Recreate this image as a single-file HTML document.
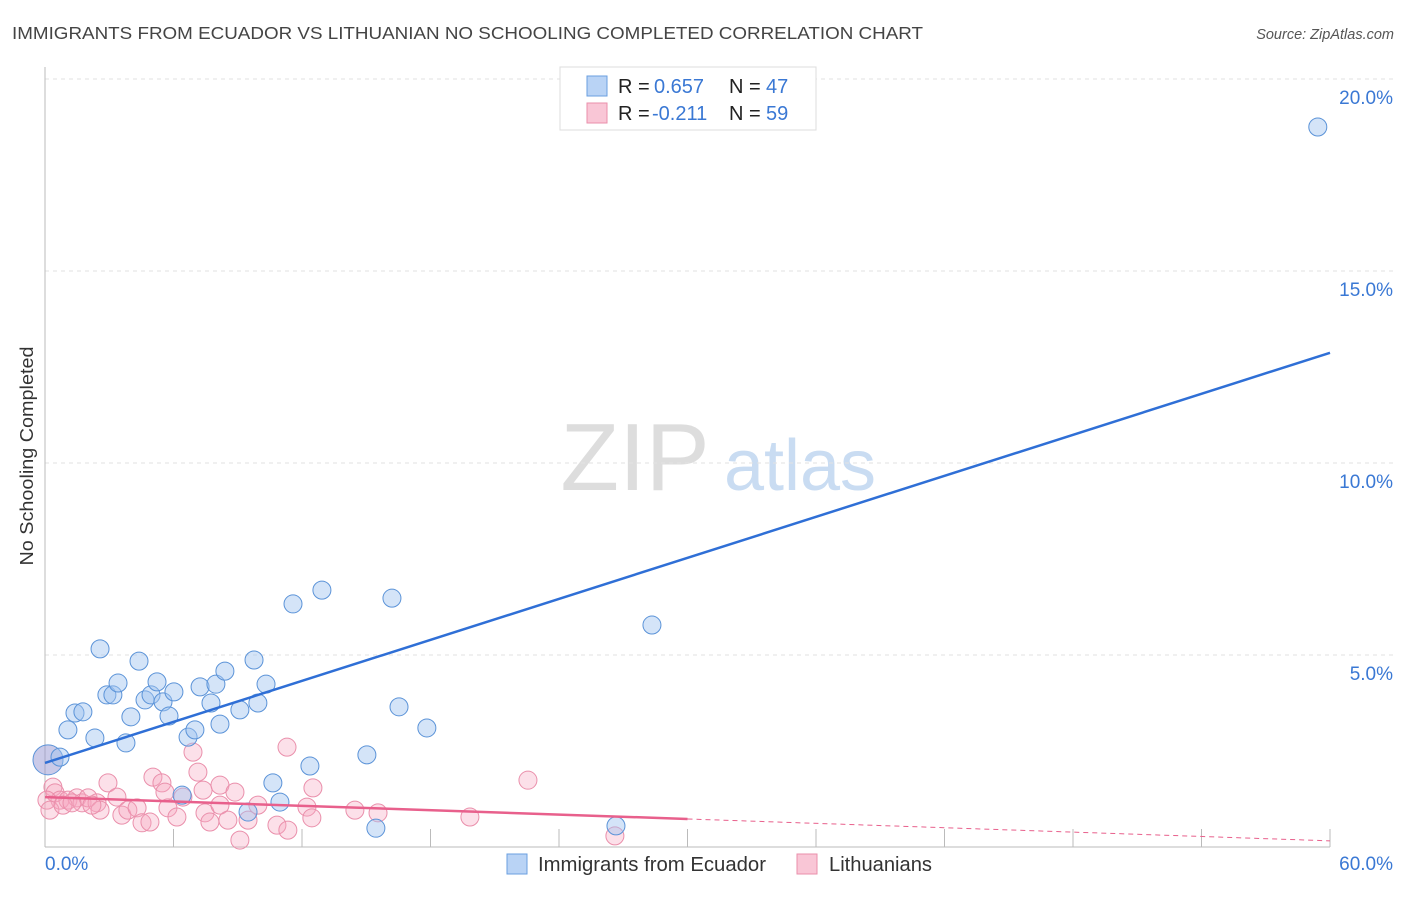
<!DOCTYPE html>
<html><head><meta charset="utf-8">
<style>
body{margin:0;background:#fff;font-family:"Liberation Sans",sans-serif;}
svg text{font-family:"Liberation Sans",sans-serif;}
</style></head>
<body>
<svg id="chart" width="1406" height="892" viewBox="0 0 1406 892" xmlns="http://www.w3.org/2000/svg">
<text x="12" y="39" font-size="17.5" fill="#444" textLength="911" lengthAdjust="spacingAndGlyphs">IMMIGRANTS FROM ECUADOR VS LITHUANIAN NO SCHOOLING COMPLETED CORRELATION CHART</text>
<text x="1394" y="39" font-size="14.5" fill="#555" font-style="italic" text-anchor="end">Source: ZipAtlas.com</text>
<text transform="translate(33,456) rotate(-90)" font-size="18" fill="#333" text-anchor="middle" textLength="219" lengthAdjust="spacingAndGlyphs">No Schooling Completed</text>
<g>
<text x="635" y="490" font-size="96" fill="#ddd" font-family="Liberation Serif,serif" text-anchor="middle">ZIP</text>
<text x="800" y="490" font-size="72" fill="#c9dcf2" text-anchor="middle">atlas</text>
</g>
<g id="grid"></g>
<g id="axes"></g>
<g id="marks"></g>
<g id="trends"></g>
<g>
<rect x="560" y="67" width="256" height="63" fill="#fff" stroke="#ddd"/>
<rect x="587" y="76" width="20" height="20" fill="#b9d3f5" stroke="#6a9fe0"/>
<rect x="587" y="103" width="20" height="20" fill="#f9c6d6" stroke="#ea8fab"/>
<text x="618" y="93" font-size="20" fill="#222">R = </text><text x="654" y="93" font-size="20" fill="#3a78d4">0.657</text>
<text x="729" y="93" font-size="20" fill="#222">N = </text><text x="766" y="93" font-size="20" fill="#3a78d4">47</text>
<text x="618" y="120" font-size="20" fill="#222">R = </text><text x="652" y="120" font-size="20" fill="#3a78d4">-0.211</text>
<text x="729" y="120" font-size="20" fill="#222">N = </text><text x="766" y="120" font-size="20" fill="#3a78d4">59</text>
</g>
<g>
<rect x="507" y="854" width="20" height="20" fill="#b9d3f5" stroke="#6a9fe0"/>
<text x="538" y="871" font-size="20" fill="#333" textLength="228" lengthAdjust="spacingAndGlyphs">Immigrants from Ecuador</text>
<rect x="797" y="854" width="20" height="20" fill="#f9c6d6" stroke="#ea8fab"/>
<text x="829" y="871" font-size="20" fill="#333" textLength="103" lengthAdjust="spacingAndGlyphs">Lithuanians</text>
</g>
</svg>
<script>
const xTickLabels=["0.0%","60.0%"];
const yTicks=[5,10,15,20];
const yTickLabels=["5.0%","10.0%","15.0%","20.0%"];
const blueX=[0.14,0.70,1.07,1.40,1.77,2.33,2.57,2.89,3.17,3.41,3.78,4.01,4.39,4.67,4.95,5.23,5.51,5.79,6.02,6.68,7.00,7.24,7.75,7.98,8.17,8.40,9.10,9.76,9.94,10.32,10.64,10.97,11.58,12.37,12.93,15.03,15.45,16.20,16.53,17.83,28.34,59.43,9.48,6.40,26.66];
const blueY=[2.27,2.34,3.05,3.49,3.52,2.84,5.16,3.96,3.96,4.27,2.71,3.39,4.84,3.83,3.96,4.30,3.78,3.41,4.04,2.86,3.05,4.17,3.75,4.24,3.20,4.58,3.57,4.87,3.75,4.24,1.67,1.17,6.33,2.11,6.69,2.40,0.49,6.48,3.65,3.10,5.78,18.75,0.91,1.35,0.55];
const pinkX=[0.37,0.47,0.70,1.07,1.49,1.73,2.01,2.43,2.57,2.94,3.36,3.59,3.87,4.30,4.53,4.90,5.04,5.46,5.60,5.74,6.16,6.44,6.91,7.14,7.38,7.47,7.70,8.17,8.17,8.54,8.87,9.10,9.48,9.94,10.83,11.30,11.34,12.23,12.51,12.46,14.47,15.55,19.84,22.55,26.61,0.09,0.23,0.84,1.26,2.19];
const pinkY=[1.56,1.41,1.22,1.22,1.28,1.15,1.28,1.15,0.96,1.67,1.30,0.83,0.96,1.02,0.63,0.65,1.82,1.67,1.43,1.02,0.78,1.30,2.47,1.95,1.48,0.89,0.65,1.61,1.09,0.70,1.43,0.18,0.70,1.09,0.57,2.60,0.44,1.04,1.54,0.76,0.96,0.89,0.78,1.74,0.29,1.22,0.96,1.09,1.15,1.09];
const blueTrend=[2.19,12.87]; // value at x=0 and x=60
const pinkTrend=[1.30,0.16];
const pinkSolidEnd=30;

const NS="http://www.w3.org/2000/svg";
const X0=45,X1=1330,Y0=847,YPER=38.4;
const sx=v=>X0+v*(X1-X0)/60;
const sy=v=>Y0-v*YPER;
function mk(tag,attrs,parent){const e=document.createElementNS(NS,tag);for(const k in attrs)e.setAttribute(k,attrs[k]);document.getElementById(parent).appendChild(e);return e;}

yTicks.forEach((t,i)=>{
  const g=mk('line',{x1:X0,x2:1394,y1:sy(t),y2:sy(t),stroke:'#e2e2e2','stroke-dasharray':'4,4'},'grid');
  
  
  const l=mk('text',{x:1393,y:sy(t)+25,'font-size':19,fill:'#3a78d4','text-anchor':'end'},'axes');
  l.textContent=yTickLabels[i];
  
  
});
const ax=mk('line',{x1:X0,x2:X0,y1:67,y2:Y0,stroke:'#bbb'},'axes');


const bx=mk('line',{x1:X0,x2:X1,y1:Y0,y2:Y0,stroke:'#bbb'},'axes');


for(let i=1;i<=10;i++){
  const t=mk('line',{x1:sx(i*6),x2:sx(i*6),y1:Y0,y2:Y0-18,stroke:'#bbb'},'axes');
  
  
}
const xl0=mk('text',{x:X0,y:870,'font-size':19,fill:'#3a78d4'},'axes');xl0.textContent=xTickLabels[0];


const xl1=mk('text',{x:1393,y:870,'font-size':19,fill:'#3a78d4','text-anchor':'end'},'axes');xl1.textContent=xTickLabels[1];



pinkX.forEach((v,i)=>{
  const c=mk('circle',{cx:sx(v),cy:sy(pinkY[i]),r:9,fill:'rgba(246,165,192,0.35)',stroke:'#ea8fab','stroke-width':1},'marks');
  
  
});
blueX.forEach((v,i)=>{
  const c=mk('circle',{cx:sx(v),cy:sy(blueY[i]),r:i===0?15:9,fill:i===0?'rgba(150,150,210,0.5)':'rgba(160,196,240,0.45)',stroke:'#5b93d8','stroke-width':1},'marks');
  
  
});
const bl=mk('line',{x1:sx(0),y1:sy(blueTrend[0]),x2:sx(60),y2:sy(blueTrend[1]),stroke:'#2f6fd6','stroke-width':2.5},'trends');


const pAt=x=>pinkTrend[0]+(pinkTrend[1]-pinkTrend[0])*x/60;
const pl=mk('line',{x1:sx(0),y1:sy(pinkTrend[0]),x2:sx(pinkSolidEnd),y2:sy(pAt(pinkSolidEnd)),stroke:'#e8608c','stroke-width':2.5},'trends');


const pd=mk('line',{x1:sx(pinkSolidEnd),y1:sy(pAt(pinkSolidEnd)),x2:sx(60),y2:sy(pinkTrend[1]),stroke:'#e8608c','stroke-width':1,'stroke-dasharray':'5,4'},'trends');


</script>
</body></html>
